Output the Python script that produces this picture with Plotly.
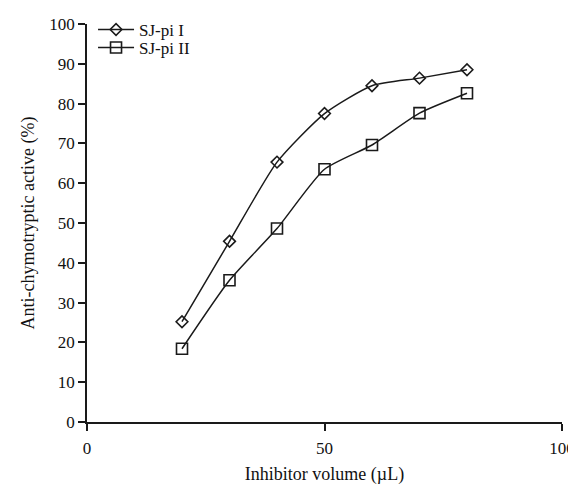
import plotly.graph_objects as go

volume = [20, 30, 40, 50, 60, 70, 80]
sj_pi_1 = [25.2, 45.4, 65.3, 77.5, 84.5, 86.4, 88.5]
sj_pi_2 = [18.4, 35.6, 48.6, 63.5, 69.6, 77.6, 82.6]

x_ticks = [0, 50, 100]
y_ticks = list(range(0, 101, 10))

font = dict(family="Liberation Serif", size=17, color="#111")
title_font = dict(family="Liberation Serif", size=18, color="#111")

fig = go.Figure()
fig.add_trace(go.Scatter(
    x=volume, y=sj_pi_1, name="SJ-pi I", mode="lines+markers", legend="legend",
    line=dict(color="#1a1a1a", width=1.5, shape="spline", smoothing=0.6),
    marker=dict(symbol="diamond-open", size=9, color="#1a1a1a", line=dict(width=1.6)),
))
fig.add_trace(go.Scatter(
    x=volume, y=sj_pi_2, name="SJ-pi II", mode="lines+markers", legend="legend2",
    line=dict(color="#1a1a1a", width=1.5, shape="spline", smoothing=0.6),
    marker=dict(symbol="square-open", size=11, color="#1a1a1a", line=dict(width=1.6)),
))

legend_common = dict(x=0.0127, xanchor="left", yanchor="middle",
                     bgcolor="rgba(0,0,0,0)", font=font, itemwidth=36)

# The page body has an 8px margin, so the figure is drawn 8px right and down.
fig.update_layout(
    width=568, height=477,
    margin=dict(l=79, r=14, t=16, b=63, autoexpand=False),
    paper_bgcolor="white", plot_bgcolor="white",
    font=font,
    showlegend=True,
    legend=dict(y=0.985, **legend_common),
    legend2=dict(y=0.94, **legend_common),
    xaxis=dict(range=[0, 100], tickvals=x_ticks, showgrid=False, zeroline=False,
               automargin=False, ticklabelstandoff=3,
               showline=True, linecolor="#1a1a1a", linewidth=1.5,
               ticks="outside", ticklen=7, tickwidth=1.5, tickcolor="#1a1a1a",
               title=dict(text="Inhibitor volume (µL)", font=title_font, standoff=15)),
    yaxis=dict(range=[0, 100], tickvals=y_ticks, showgrid=False, zeroline=False,
               automargin=False,
               showline=True, linecolor="#1a1a1a", linewidth=1.5,
               ticks="outside", ticklen=7, tickwidth=1.5, tickcolor="#1a1a1a",
               title=dict(text="Anti-chymotryptic active (%)", font=title_font, standoff=10)),
)

fig.write_html("out.html")
